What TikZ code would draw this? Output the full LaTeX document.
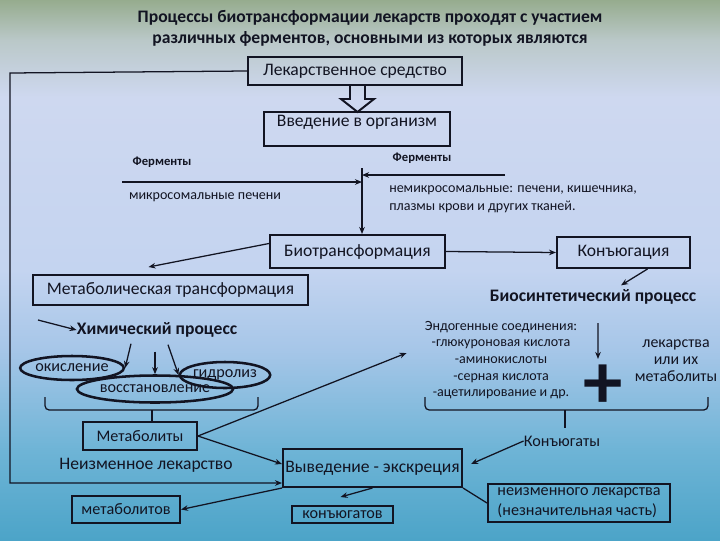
\documentclass[tikz,border=0pt]{standalone}
\usepackage{fontspec}
\setmainfont{Carlito}
\usetikzlibrary{shapes.geometric,arrows.meta}
\definecolor{bgtop}{RGB}{150,172,142}
\definecolor{bgmist}{RGB}{186,200,200}
\definecolor{bglav}{RGB}{206,216,240}
\definecolor{bgmid}{RGB}{196,212,240}
\definecolor{bgsky}{RGB}{166,198,232}
\definecolor{bgsea}{RGB}{110,180,214}
\definecolor{bgbot}{RGB}{76,164,200}
\definecolor{inkdark}{RGB}{18,20,34}
\pgfdeclareverticalshading{slide-bg}{100bp}{%
  color(0bp)=(bgbot); color(25bp)=(bgbot); color(33.3bp)=(bgsea);
  color(42.6bp)=(bgsky); color(50bp)=(bgmid); color(66bp)=(bglav);
  color(71.3bp)=(bgmist); color(75bp)=(bgtop); color(100bp)=(bgtop)}
\tikzset{
  box/.style={draw=inkdark, line width=1.4pt, inner sep=0pt, text=inkdark},
  ring/.style={ellipse, draw=inkdark, line width=1.8pt, inner sep=0pt, text=inkdark},
  txt/.style={inner sep=0pt, text=inkdark, align=center},
  f-big/.style={font=\fontsize{12.5}{15}\selectfont},
  f-mid/.style={font=\fontsize{11.5}{14}\selectfont},
  f-small/.style={font=\fontsize{10}{12.5}\selectfont},
  f-head/.style={font=\bfseries\fontsize{12.5}{15}\selectfont},
  arr/.style={draw=inkdark, line width=0.9pt, -{Stealth[length=5pt,width=4pt]}},
  link/.style={draw=inkdark, line width=0.9pt}
}

\begin{document}
\begin{tikzpicture}[x=0.025cm, y=-0.025cm]
  % background
  \fill[shading=slide-bg] (0,0) rectangle (720,540);
  \useasboundingbox (0,0) rectangle (720,540);

  % title
  \node[txt, f-head] (title) at (370,28)
    {Процессы биотрансформации лекарств проходят с участием\\
     различных ферментов, основными из которых являются};

  % top boxes
  \node[box, f-big, minimum width=5.35cm, minimum height=0.7cm] (drug) at (355,71) {Лекарственное средство};
  \node[box, f-big, minimum width=4.65cm, minimum height=0.85cm,
        text height=8pt, text depth=12pt] (intro) at (357,129) {Введение в организм};
  \draw[line width=1.4pt, draw=inkdark] (drug.south) ++(-5,0) -- ++(0,13) -- ++(-9,0)
    -- ++(16.5,13) -- ++(16.5,-13) -- ++(-9,0) -- ++(0,-13);

  % enzymes
  \node[txt, font=\bfseries\fontsize{9}{11}\selectfont] (ferm-l) at (162,162) {Ферменты};
  \node[txt, font=\bfseries\fontsize{9}{11}\selectfont] (ferm-r) at (422,158) {Ферменты};
  \node[txt, f-small] (micro) at (205,197) {микросомальные печени};
  \node[txt, f-small, align=left, anchor=west] (nonmicro) at (389,199)
    {немикросомальные: печени, кишечника,\\плазмы крови и других тканей.};
  \coordinate (fork) at (362,168);
  \coordinate (ferm-l-in) at (122,182);
  \coordinate (ferm-r-in) at (505,175);

  % biotransformation
  \node[box, f-big, minimum width=4.375cm, minimum height=0.825cm] (bio) at (357.5,251.5) {Биотрансформация};
  \node[box, f-big, minimum width=3.325cm, minimum height=0.775cm] (conj) at (623.5,252.5) {Конъюгация};
  \node[box, f-big, minimum width=6.875cm, minimum height=0.75cm] (metab) at (170.5,290) {Метаболическая трансформация};
  \node[txt, f-head] (biosyn) at (593,297) {Биосинтетический процесс};

  % chemical process
  \node[txt, f-head] (chem) at (157,330) {Химический процесс};
  \coordinate (chem-in) at (38,320);
  \node[ring, f-mid, minimum width=2.25cm, minimum height=0.6cm] (oxid) at (72,368) {окисление};
  \node[ring, f-mid, minimum width=2cm, minimum height=0.65cm] (hydro) at (225,375) {гидролиз};
  \node[ring, f-mid, minimum width=3.25cm, minimum height=0.675cm] (reduct) at (155,389) {восстановление};
  \draw[link, rounded corners=3pt] (45,397) -- (45,410) -- (258,410) -- (258,397);

  % endogenous compounds
  \node[txt, font=\fontsize{10}{11.8}\selectfont] (endo) at (501,360)
    {Эндогенные соединения:\\-глюкуроновая кислота\\-аминокислоты\\-серная кислота\\-ацетилирование и др.};
  \node[txt, font=\fontsize{11.3}{12}\selectfont] (drugs) at (676,361) {лекарства\\или их\\метаболиты};
  \node[txt, font=\bfseries\fontsize{56}{56}\selectfont] (plus) at (603,387) {+};
  \coordinate (plus-in) at (598,323);
  \draw[link, rounded corners=3pt] (425,397) -- (425,410) -- (708,410) -- (708,397);
  \node[txt, f-mid] (conjs) at (562,441) {Конъюгаты};

  % products and excretion
  \node[box, f-mid, minimum width=2.85cm, minimum height=0.7cm] (metabs) at (140,436) {Метаболиты};
  \node[txt, f-big] (unchg-txt) at (146,465) {Неизменное лекарство};
  \node[box, f-big, minimum width=4.475cm, minimum height=0.95cm] (excr) at (372.5,468) {Выведение - экскреция};
  \node[box, f-mid, minimum width=2.7cm, minimum height=0.675cm] (out-metab) at (126,509.5) {метаболитов};
  \node[box, f-mid, minimum width=2.525cm, minimum height=0.425cm] (out-conj) at (342.5,514.5) {конъюгатов};
  \node[box, f-mid, align=left, minimum width=4.55cm, minimum height=0.95cm] (out-drug) at (579,503)
    {неизменного лекарства\\(незначительная часть)};
  \coordinate (loop-tl) at (10,73);
  \coordinate (loop-bl) at (10,483);

  % connectors
  \draw[arr] (ferm-l-in) -- (ferm-l-in -| fork);
  \draw[arr] (ferm-r-in) -- (ferm-r-in -| fork);
  \draw[arr] (fork) -- (bio.north -| fork);
  \draw[arr] (bio.east) -- (conj.west);
  \draw[arr] ([yshift=0.2cm]bio.west) -- ([xshift=-0.55cm,yshift=0.175cm]metab.north);
  \draw[arr] ([xshift=0.6cm]conj.south) -- ([xshift=0.7cm,yshift=0.1cm]biosyn.north);
  \draw[arr] (chem-in) -- (chem.west);
  \draw[arr] ([xshift=-0.65cm,yshift=-0.15cm]chem.south) -- (oxid.east);
  \draw[arr] ([yshift=-0.35cm]reduct.north |- chem.south) -- (reduct.north);
  \draw[arr] ([xshift=0.275cm,yshift=-0.175cm]chem.south) -- (hydro.west);
  \draw[link] (152,410) -- (152,422);
  \draw[link] (565,410) -- (565,428);
  \draw[arr] (plus-in) -- ([xshift=-0.125cm,yshift=0.15cm]plus.north);
  \draw[arr] (metabs.east) -- ([xshift=-0.45cm,yshift=0.175cm]endo.west);
  \draw[arr] (metabs.east) -- ([yshift=0.1cm]excr.west);
  \draw[arr] (drug.west) -- (loop-tl) -- (loop-bl) -- (excr.west |- loop-bl);
  \draw[arr] (excr.south west) -- (out-metab.east);
  \draw[arr] (excr.south) -- ([xshift=-0.05cm,yshift=0.2cm]out-conj.north);
  \draw[arr] (conjs.west) -- ([xshift=0.2cm,yshift=0.1cm]excr.east);
  \draw[link] (excr.south east) -- (out-drug.west);
\end{tikzpicture}
\end{document}
